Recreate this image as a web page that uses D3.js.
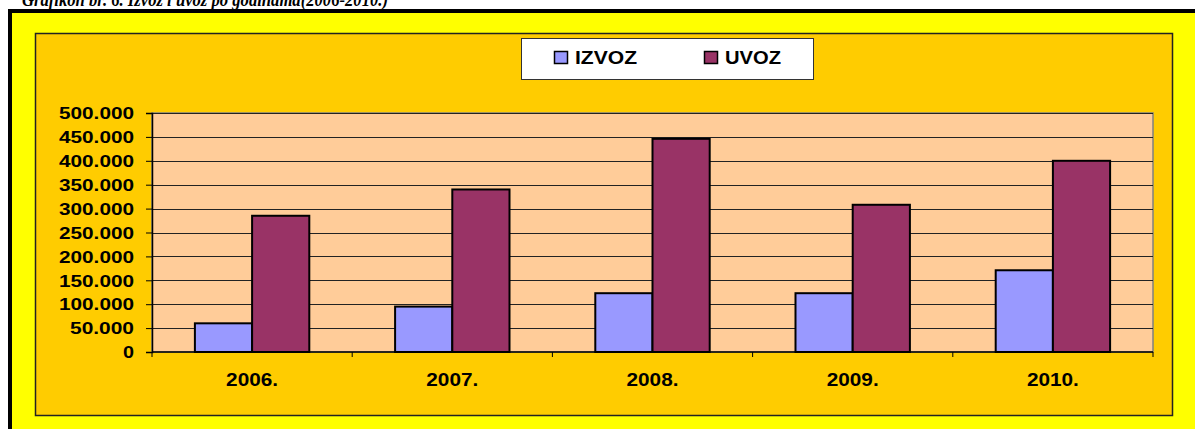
<!DOCTYPE html>
<html>
<head>
<meta charset="utf-8">
<script src="https://cdn.jsdelivr.net/npm/d3@7"></script>
<style>
body { margin: 0; background: #fff; overflow: hidden; }
text { font-family: "Liberation Sans", Arial, sans-serif; font-weight: bold; fill: #000; }
</style>
</head>
<body>
<svg></svg>
<script>
var years = ['2006.', '2007.', '2008.', '2009.', '2010.'];
var series = ['IZVOZ', 'UVOZ'];
var izvoz = [60000, 95000, 123000, 123000, 171000];
var uvoz = [285000, 340000, 446000, 308000, 400000];
var yTicks = [0, 50000, 100000, 150000, 200000, 250000, 300000, 350000, 400000, 450000, 500000];
var colors = ['#9999FF', '#993366'];

var w = 1195;
var h = 429;
var svg = d3.select('svg')
    .attr('width', w)
    .attr('height', h);

// title, partly cut off at the top of the page like in the scan
svg.append('text')
    .attr('x', 22)
    .attr('y', 6)
    .attr('textLength', 366)
    .attr('lengthAdjust', 'spacingAndGlyphs')
    .style('font-family', '"Liberation Serif", "Times New Roman", serif')
    .style('font-style', 'italic')
    .style('font-size', '19px')
    .text('Grafikon br. 6. Izvoz i uvoz po godinama(2006-2010.)');

// outer yellow frame
svg.append('rect')
    .attr('x', 10).attr('y', 11)
    .attr('width', 1200).attr('height', 430)
    .attr('fill', '#FFFF00')
    .attr('stroke', '#000')
    .attr('stroke-width', 4);

// chart area
svg.append('rect')
    .attr('x', 35.5).attr('y', 33.5)
    .attr('width', 1137).attr('height', 382)
    .attr('fill', '#FFCC00')
    .attr('stroke', '#222')
    .attr('stroke-width', 1.5);

var pLeft = 152, pRight = 1153, pTop = 113, pBottom = 352;

var x = d3.scaleBand().domain(years).range([pLeft, pRight]);
var xs = d3.scaleBand().domain(series).range([0, x.bandwidth()]).paddingOuter(0.75);
var y = d3.scaleLinear().domain([0, 500000]).range([pBottom, pTop]);

// plot area
svg.append('rect')
    .attr('x', pLeft).attr('y', pTop)
    .attr('width', pRight - pLeft).attr('height', pBottom - pTop)
    .attr('fill', '#FFCC99')
    .attr('stroke', '#808080')
    .attr('stroke-width', 1.5);

svg.selectAll('line.grid')
    .data(yTicks.slice(1))
    .enter()
    .append('line')
    .attr('class', 'grid')
    .attr('x1', pLeft).attr('x2', pRight)
    .attr('y1', function(d){ return Math.round(y(d)) + 0.5; })
    .attr('y2', function(d){ return Math.round(y(d)) + 0.5; })
    .attr('stroke', '#222')
    .attr('stroke-width', 1);

var fmt = function(d){ return d == 0 ? '0' : d3.format(',')(d).replace(/,/g, '.'); };

var yAxis = svg.append('g')
    .attr('transform', 'translate(' + pLeft + ',0)')
    .call(d3.axisLeft(y).tickValues(yTicks).tickSize(6).tickPadding(12).tickFormat(fmt));
yAxis.select('.domain').attr('stroke', '#000').attr('stroke-width', 1.5);
yAxis.selectAll('.tick line').attr('stroke', '#000');
yAxis.selectAll('.tick text')
    .style('font-size', '16px')
    .style('font-family', '"Liberation Sans", Arial, sans-serif')
    .attr('dy', '0.36em')
    .each(function(d){
        var t = fmt(d);
        d3.select(this).attr('textLength', t.length == 1 ? 11 : (t.length == 6 ? 64 : 75))
            .attr('lengthAdjust', 'spacingAndGlyphs');
    });

// bars
var groups = svg.selectAll('g.year')
    .data(years)
    .enter()
    .append('g')
    .attr('class', 'year')
    .attr('transform', function(d){ return 'translate(' + x(d) + ',0)'; });

groups.selectAll('rect')
    .data(function(d, i){ return [{s: 'IZVOZ', v: izvoz[i]}, {s: 'UVOZ', v: uvoz[i]}]; })
    .enter()
    .append('rect')
    .attr('x', function(d){ return xs(d.s); })
    .attr('width', xs.bandwidth())
    .attr('y', function(d){ return y(d.v); })
    .attr('height', function(d){ return pBottom - y(d.v); })
    .attr('fill', function(d, i){ return colors[i]; })
    .attr('stroke', '#000')
    .attr('stroke-width', 2);

// x axis with ticks between categories
var xb = svg.append('g');
xb.append('line')
    .attr('x1', pLeft).attr('x2', pRight)
    .attr('y1', pBottom).attr('y2', pBottom)
    .attr('stroke', '#000').attr('stroke-width', 1.5);
xb.selectAll('line.tk')
    .data(years.concat(['end']))
    .enter()
    .append('line')
    .attr('class', 'tk')
    .attr('x1', function(d){ return d == 'end' ? pRight : x(d); })
    .attr('x2', function(d){ return d == 'end' ? pRight : x(d); })
    .attr('y1', pBottom).attr('y2', pBottom + 5)
    .attr('stroke', '#000');
xb.selectAll('text')
    .data(years)
    .enter()
    .append('text')
    .attr('x', function(d){ return x(d) + x.bandwidth() / 2; })
    .attr('y', 386)
    .attr('text-anchor', 'middle')
    .attr('textLength', 52)
    .attr('lengthAdjust', 'spacingAndGlyphs')
    .style('font-size', '19px')
    .text(function(d){ return d; });

// legend
var lg = svg.append('g');
lg.append('rect')
    .attr('x', 521.5).attr('y', 38.5)
    .attr('width', 292).attr('height', 41)
    .attr('fill', '#fff')
    .attr('stroke', '#333')
    .attr('stroke-width', 1);
var lx = [554, 704];
var lw = [62, 56];
lg.selectAll('rect.key')
    .data(series)
    .enter()
    .append('rect')
    .attr('class', 'key')
    .attr('x', function(d, i){ return lx[i] + 0.5; })
    .attr('y', 51.5)
    .attr('width', 13).attr('height', 12)
    .attr('fill', function(d, i){ return colors[i]; })
    .attr('stroke', '#000')
    .attr('stroke-width', 1.5);
lg.selectAll('text')
    .data(series)
    .enter()
    .append('text')
    .attr('x', function(d, i){ return lx[i] + 21; })
    .attr('y', 63.5)
    .attr('textLength', function(d, i){ return lw[i]; })
    .attr('lengthAdjust', 'spacingAndGlyphs')
    .style('font-size', '18px')
    .text(function(d){ return d; });
</script>
</body>
</html>
